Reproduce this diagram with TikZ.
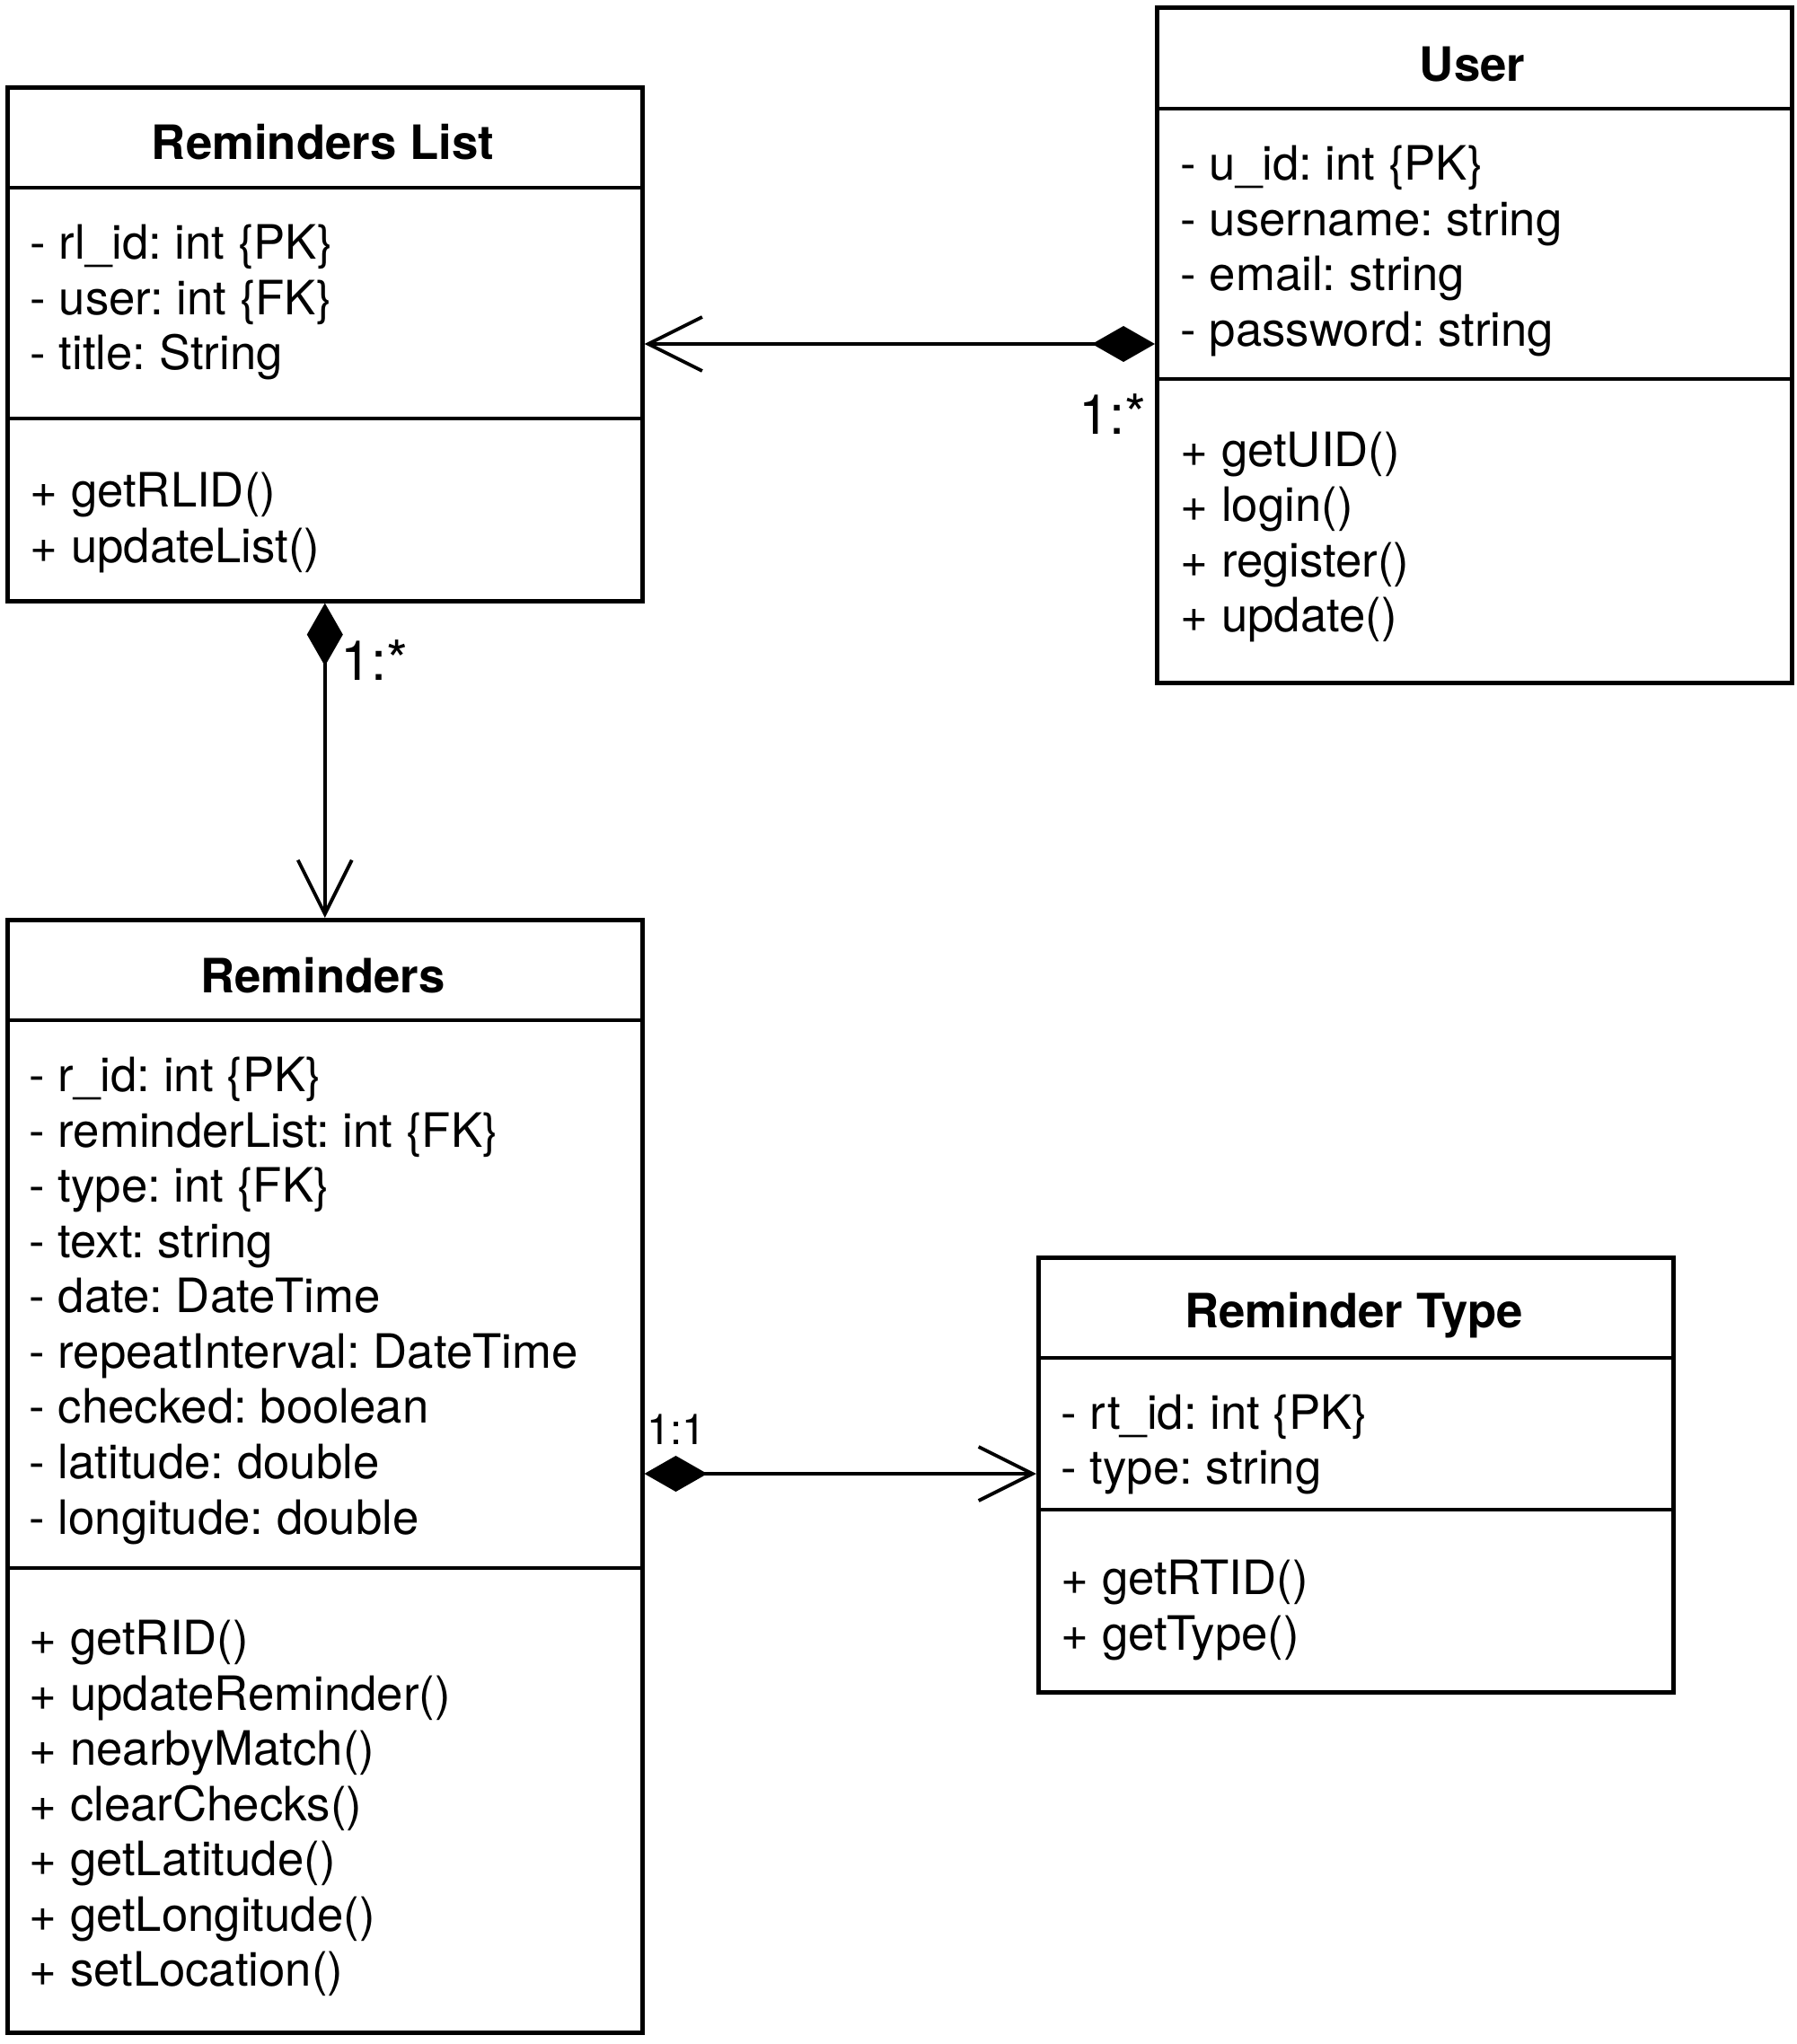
\documentclass[tikz,border=0pt]{standalone}
\usepackage{fontspec}
\setmainfont{TeX Gyre Heros}
\frenchspacing
\usetikzlibrary{arrows.meta}

\tikzset{
  classbox/.style={draw, line width=1.3pt, minimum width=7.07cm, inner sep=0pt, anchor=north west},
  classname/.style={font=\fontsize{15}{17.5}\selectfont\bfseries, inner sep=0pt},
  members/.style={font=\fontsize{15}{17.5}\selectfont, align=left, anchor=west, inner sep=0pt},
  divider/.style={line width=1.3pt},
  assoc/.style={line width=1.1pt, {Diamond[length=0.7cm,width=0.4cm]}-{Straight Barb[length=0.6cm,width=0.6cm]}},
  mult/.style={font=\fontsize{17.5}{20}\selectfont, inner sep=0pt}
}

\begin{document}
\begin{tikzpicture}
\useasboundingbox (0,0) rectangle (20,-22.76);

% Reminders List
\node[classbox, minimum height=5.72cm] (rl) at (0.06,-0.95) {};
\draw[divider] (rl.west |- 0,-2.09) -- (rl.east |- 0,-2.09);
\draw[divider] (rl.west |- 0,-4.66) -- (rl.east |- 0,-4.66);
\node[classname] (rl-name) at (3.595,-1.58) {Reminders List};
\node[members] (rl-attr) at (0.33,-3.37) {- rl\_id: int \{PK\}\\- user: int \{FK\}\\- title: String};
\node[members] (rl-ops) at (0.33,-5.82) {+ getRLID()\\+ updateList()};

% User
\node[classbox, minimum height=7.52cm] (user) at (12.86,-0.06) {};
\draw[divider] (user.west |- 0,-1.21) -- (user.east |- 0,-1.21);
\draw[divider] (user.west |- 0,-4.22) -- (user.east |- 0,-4.22);
\node[classname] (user-name) at (16.395,-0.72) {User};
\node[members] (user-attr) at (13.14,-2.795) {- u\_id: int \{PK\}\\- username: string\\- email: string\\- password: string};
\node[members] (user-ops) at (13.14,-5.98) {+ getUID()\\+ login()\\+ register()\\+ update()};

% Reminders
\node[classbox, minimum height=12.39cm] (rem) at (0.06,-10.22) {};
\draw[divider] (rem.west |- 0,-11.36) -- (rem.east |- 0,-11.36);
\draw[divider] (rem.west |- 0,-17.46) -- (rem.east |- 0,-17.46);
\node[classname] (rem-name) at (3.595,-10.86) {Reminders};
\node[members] (rem-attr) at (0.32,-14.485) {- r\_id: int \{PK\}\\- reminderList: int \{FK\}\\- type: int \{FK\}\\- text: string\\- date: DateTime\\- repeatInterval: DateTime\\- checked: boolean\\- latitude: double\\- longitude: double};
\node[members] (rem-ops) at (0.32,-20.135) {+ getRID()\\+ updateReminder()\\+ nearbyMatch()\\+ clearChecks()\\+ getLatitude()\\+ getLongitude()\\+ setLocation()};

% Reminder Type
\node[classbox, minimum height=4.84cm] (rtype) at (11.54,-13.98) {};
\draw[divider] (rtype.west |- 0,-15.12) -- (rtype.east |- 0,-15.12);
\draw[divider] (rtype.west |- 0,-16.81) -- (rtype.east |- 0,-16.81);
\node[classname] (rtype-name) at (15.075,-14.65) {Reminder Type};
\node[members] (rtype-attr) at (11.81,-16.085) {- rt\_id: int \{PK\}\\- type: string};
\node[members] (rtype-ops) at (11.81,-17.93) {+ getRTID()\\+ getType()};

% associations
\draw[assoc] (user.west |- 0,-3.83) -- (rl.east |- 0,-3.83);
\draw[assoc] (rl.south) -- (rem.north);
\draw[assoc] (rem.east |- 0,-16.41) -- (rtype.west |- 0,-16.41);

\node[mult] (m-user) at (12.39,-4.61) {1:*};
\node[mult] (m-rl) at (4.17,-7.35) {1:*};
\node[mult, font=\fontsize{13.5}{16}\selectfont] (m-rem) at (7.53,-15.92) {1:1};
\end{tikzpicture}
\end{document}
